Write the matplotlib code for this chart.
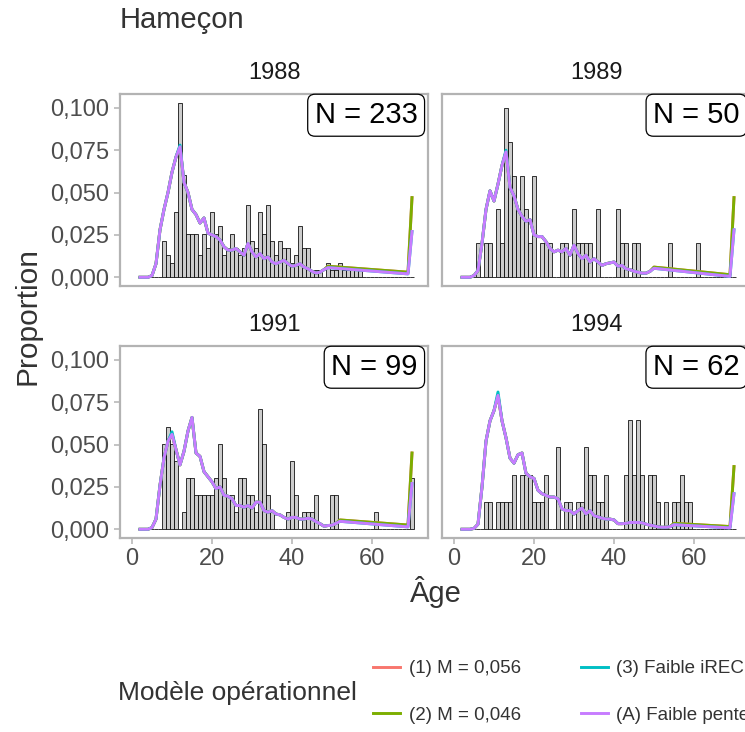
import numpy as np
import matplotlib
matplotlib.use("Agg")
import matplotlib.pyplot as plt
from matplotlib.lines import Line2D

plt.rcParams['font.family'] = ['Liberation Sans', 'DejaVu Sans']

# ---- data ----
years = [1988, 1989, 1991, 1994]
n_fish = [233, 50, 99, 62]
bar_ages = np.arange(2, 71)

# observed counts at age (age: count), proportion = count / N
counts_1988 = {8: 5, 9: 3, 10: 2, 11: 9, 12: 24, 13: 14, 14: 6, 15: 6, 16: 6, 17: 3,
               18: 6, 19: 4, 20: 9, 21: 6, 22: 7, 23: 3, 24: 4, 25: 6, 26: 4, 27: 3,
               28: 4, 29: 10, 30: 5, 31: 4, 32: 9, 33: 6, 34: 10, 35: 5, 36: 3, 37: 5,
               38: 4, 39: 4, 40: 2, 41: 3, 42: 7, 43: 4, 44: 4, 45: 1, 46: 1, 47: 1,
               49: 2, 50: 1, 51: 1, 52: 2, 53: 1, 54: 1, 55: 1, 56: 1, 57: 1}
counts_1989 = {6: 1, 8: 1, 9: 1, 11: 2, 12: 1, 13: 5, 14: 4, 15: 3, 16: 2, 17: 3,
               18: 2, 19: 1, 20: 3, 22: 1, 23: 1, 24: 1, 27: 1, 28: 1, 30: 2, 31: 1,
               32: 1, 33: 1, 34: 1, 36: 2, 41: 2, 42: 1, 43: 1, 45: 1, 46: 1, 54: 1,
               61: 1}
counts_1991 = {8: 5, 9: 6, 10: 5, 11: 4, 13: 1, 14: 3, 15: 3, 16: 2, 17: 2, 18: 2,
               19: 2, 20: 2, 21: 3, 22: 5, 23: 3, 24: 2, 25: 2, 26: 1, 27: 3, 28: 3,
               29: 2, 30: 2, 31: 1, 32: 7, 33: 5, 34: 2, 35: 1, 39: 1, 40: 4, 41: 2,
               43: 1, 44: 1, 45: 1, 46: 2, 50: 2, 51: 2, 61: 1, 70: 3}
counts_1994 = {8: 1, 9: 1, 11: 1, 12: 1, 13: 1, 14: 1, 15: 2, 17: 2, 18: 2, 19: 2,
               20: 1, 21: 1, 22: 1, 23: 2, 26: 3, 28: 1, 29: 1, 31: 1, 32: 1, 33: 3,
               34: 2, 35: 2, 36: 1, 37: 1, 38: 2, 43: 2, 44: 4, 45: 2, 46: 4, 47: 2,
               49: 2, 50: 2, 51: 1, 53: 1, 55: 1, 56: 1, 57: 2, 58: 1, 59: 1}
counts = [counts_1988, counts_1989, counts_1991, counts_1994]

# fitted proportions, model (A); the other models lie on top of it except where noted
fit_ages_1988 = list(range(2, 50)) + [69, 70]
fit_1988 = [0, 0, 0, 0.001, 0.008, 0.028, 0.040, 0.050, 0.062, 0.071, 0.077, 0.056,
            0.050, 0.040, 0.037, 0.032, 0.035, 0.026, 0.025, 0.024, 0.022, 0.018,
            0.016, 0.016, 0.017, 0.015, 0.013, 0.020, 0.015, 0.012, 0.014, 0.011,
            0.012, 0.009, 0.008, 0.009, 0.010, 0.008, 0.0065, 0.007, 0.008, 0.006,
            0.005, 0.0035, 0.0025, 0.003, 0.0045, 0.0057, 0.002, 0.027]
fit_ages_1989 = list(range(2, 51)) + [69, 70]
fit_1989 = [0, 0, 0, 0.001, 0.004, 0.020, 0.040, 0.051, 0.045, 0.055, 0.066, 0.074,
            0.053, 0.048, 0.040, 0.036, 0.033, 0.034, 0.025, 0.024, 0.024, 0.021,
            0.017, 0.015, 0.016, 0.015, 0.017, 0.013, 0.019, 0.014, 0.011, 0.013,
            0.009, 0.011, 0.009, 0.007, 0.008, 0.0085, 0.009, 0.0065, 0.007, 0.005,
            0.0045, 0.0035, 0.003, 0.0024, 0.0024, 0.0035, 0.0053, 0.0005, 0.028]
fit_ages_1991 = list(range(2, 53)) + [69, 70]
fit_1991 = [0, 0, 0, 0.001, 0.006, 0.026, 0.042, 0.052, 0.056, 0.047, 0.038, 0.046,
            0.058, 0.066, 0.045, 0.043, 0.034, 0.031, 0.028, 0.024, 0.025, 0.020,
            0.0195, 0.018, 0.014, 0.014, 0.013, 0.014, 0.0125, 0.016, 0.016, 0.011,
            0.010, 0.011, 0.009, 0.0085, 0.007, 0.006, 0.007, 0.007, 0.006, 0.006,
            0.0065, 0.006, 0.0045, 0.0033, 0.0018, 0.0022, 0.0024, 0.0035, 0.0047,
            0.0014, 0.027]
fit_ages_1994 = list(range(2, 56)) + [69, 70]
fit_1994 = [0, 0, 0, 0.0005, 0.003, 0.025, 0.052, 0.064, 0.070, 0.079, 0.064, 0.054,
            0.042, 0.039, 0.044, 0.045, 0.033, 0.031, 0.030, 0.023, 0.021, 0.020,
            0.019, 0.019, 0.018, 0.012, 0.011, 0.011, 0.009, 0.011, 0.0125, 0.009,
            0.011, 0.008, 0.0073, 0.0065, 0.006, 0.006, 0.0055, 0.0033, 0.0033,
            0.0035, 0.004, 0.004, 0.004, 0.0038, 0.003, 0.0024, 0.002, 0.0014, 0.0012,
            0.0012, 0.0015, 0.0027, 0.0008, 0.021]
fit_ages = [fit_ages_1988, fit_ages_1989, fit_ages_1991, fit_ages_1994]
fits = [fit_1988, fit_1989, fit_1991, fit_1994]

# points where a model departs from (A): {year index: {age: value}}
tail_m1 = {0: {49: 0.0065, 69: 0.003, 70: 0.047}, 1: {50: 0.006, 69: 0.0015, 70: 0.047},
           2: {52: 0.0055, 69: 0.0025, 70: 0.045}, 3: {55: 0.0035, 69: 0.0016, 70: 0.037}}
tail_m2 = tail_m1
peak_m3 = {0: {12: 0.078}, 1: {13: 0.075}, 2: {10: 0.0575}, 3: {11: 0.081}}

models = ['(1) M = 0,056', '(2) M = 0,046', '(3) Faible iREC', '(A) Faible pente']
model_colors = ['#F8766D', '#7CAE00', '#00BFC4', '#C77CFF']
model_changes = [tail_m1, tail_m2, peak_m3, {}]

# ---- figure ----
W, H = 745, 732
fig = plt.figure(figsize=(W / 100, H / 100), dpi=100)

def panel(left, top, w, h):
    return fig.add_axes([left / W, 1 - (top + h) / H, w / W, h / H])

boxes = [(120, 94), (442, 94), (120, 346), (442, 346)]
frame_col = '#B3B3B3'
yticks = [0, 0.025, 0.05, 0.075, 0.1]

for i, yr in enumerate(years):
    left, top = boxes[i]
    ax = panel(left, top, 308, 192)
    props = [counts[i].get(a, 0) / n_fish[i] for a in bar_ages]
    ax.bar(bar_ages, props, width=1, color='#CCCCCC', edgecolor='black',
           linewidth=0.55, zorder=1)
    for m, col, chg in zip(models, model_colors, model_changes):
        vals = list(fits[i])
        for a, v in chg.get(i, {}).items():
            vals[fit_ages[i].index(a)] = v
        ax.plot(fit_ages[i], vals, color=col, lw=2.1, zorder=2)

    ax.set_xlim(-3, 74)
    ax.set_ylim(-0.00515, 0.10815)
    for s in ax.spines.values():
        s.set_color(frame_col)
        s.set_linewidth(1.6)
    ax.set_xticks([0, 20, 40, 60])
    ax.set_yticks(yticks)
    ax.set_yticklabels([f'{t:.3f}'.replace('.', ',') for t in yticks])
    ax.tick_params(colors=frame_col, labelcolor='#4D4D4D', labelsize=17,
                   length=4.5, width=1.1, pad=3)
    if i % 2 == 1:
        ax.tick_params(axis='y', left=False, labelleft=False)
    if i < 2:
        ax.tick_params(axis='x', bottom=False, labelbottom=False)

    ax.annotate(f'N = {n_fish[i]}', xy=(1, 1), xycoords='axes fraction',
                xytext=(-7.5, -5.2), textcoords='offset points', ha='right', va='top',
                fontsize=21, color='black', zorder=5,
                bbox=dict(boxstyle='round,pad=0.24,rounding_size=0.25', fc='white',
                          ec='black', lw=0.9))

    fig.text((left + 154) / W, 1 - (top - 21) / H, str(yr), ha='center', va='center',
             fontsize=17, color='#1A1A1A')

fig.text(120 / W, 1 - 20 / H, 'Hameçon', ha='left', va='center', fontsize=21,
         color='#333333')
fig.text(27 / W, 1 - 316 / H, 'Proportion', rotation=90, ha='center', va='center',
         fontsize=21.5, color='#333333')
fig.text(436 / W, 1 - 592 / H, 'Âge', ha='center', va='center', fontsize=21,
         color='#333333')

# legend
fig.text(118 / W, 1 - 693 / H, 'Modèle opérationnel', ha='left', va='center',
         fontsize=19, color='#333333')
handles = [Line2D([], [], color=c, lw=2.1) for c in model_colors]
fig.legend(handles, models, ncol=2, loc='center left',
           bbox_to_anchor=(373 / W, 1 - 692 / H), frameon=False, fontsize=13.5,
           handlelength=1.45, handletextpad=0.45, columnspacing=3.2,
           labelspacing=1.55, borderpad=0, borderaxespad=0, labelcolor='#333333')

fig.savefig('out.png', dpi=100)
